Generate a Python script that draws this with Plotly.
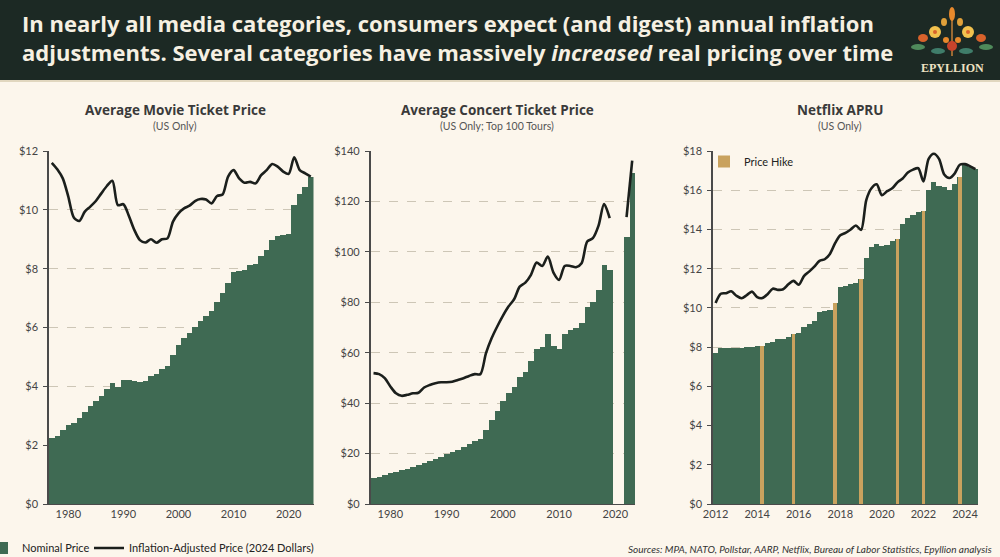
import plotly.graph_objects as go

# ---------------- DATA ----------------
movie_years = list(range(1977, 2025))
movie_nominal = [2.23, 2.32, 2.51, 2.67, 2.77, 2.94, 3.13, 3.33, 3.50, 3.67,
                 3.90, 4.12, 3.98, 4.21, 4.21, 4.17, 4.15, 4.18, 4.35, 4.42,
                 4.59, 4.69, 5.08, 5.39, 5.66, 5.81, 6.03, 6.21, 6.40, 6.56,
                 6.87, 7.18, 7.50, 7.90, 7.92, 7.95, 8.12, 8.17, 8.44, 8.65,
                 8.97, 9.11, 9.16, 9.18, 10.17, 10.53, 10.78, 11.10]
movie_real = [11.60, 11.38, 11.07, 10.45, 9.74, 9.62, 9.94, 10.11, 10.30, 10.56,
              10.81, 10.99, 10.16, 10.19, 9.79, 9.31, 8.97, 8.89, 9.00, 8.88,
              9.00, 9.03, 9.60, 9.88, 10.05, 10.14, 10.30, 10.37, 10.35, 10.22,
              10.47, 10.52, 11.13, 11.35, 11.07, 10.92, 10.95, 10.90, 11.18, 11.35,
              11.56, 11.47, 11.30, 11.22, 11.79, 11.35, 11.24, 11.13]

concert_years = list(range(1977, 2024))
concert_nominal = [10.2, 10.8, 11.5, 12.2, 12.8, 13.5, 14.0, 14.7, 15.4, 16.1,
                   17.0, 18.0, 18.8, 19.7, 20.6, 21.6, 22.8, 23.8, 24.8, 25.8,
                   29.4, 33.3, 37.0, 40.9, 43.9, 46.6, 50.3, 52.5, 56.9, 61.5,
                   62.2, 67.3, 62.7, 61.5, 67.3, 69.0, 69.7, 71.7, 78.0, 80.2,
                   84.9, 94.6, 92.7, None, None, 105.8, 131.2]
concert_real = [51.9, 51.5, 49.9, 46.6, 43.9, 42.9, 43.3, 43.9, 44.1, 46.2,
                47.2, 47.9, 48.3, 48.3, 48.5, 49.2, 49.9, 50.8, 51.5, 51.5,
                59.8, 65.7, 70.4, 74.6, 78.3, 81.2, 86.2, 87.8, 90.9, 95.8,
                94.4, 98.1, 91.8, 88.9, 94.4, 94.4, 93.9, 95.5, 104.1, 105.4,
                110.3, 119.0, 113.4, None, None, 113.8, 136.2]

netflix_years = [y for y in range(2012, 2025) for q in range(4)][:51]
netflix_qtrs = [q for y in range(2012, 2025) for q in range(1, 5)][:51]
netflix_nominal = [7.69, 7.98, 7.98, 7.98,
                   7.98, 7.95, 7.99, 8.03,
                   8.05, 8.07, 8.20, 8.28,
                   8.42, 8.43, 8.52, 8.66,
                   8.71, 9.05, 9.17, 9.35,
                   9.81, 9.83, 9.90, 10.27,
                   11.04, 11.12, 11.22, 11.26,
                   11.46, 12.53, 13.13, 13.25,
                   13.16, 13.22, 13.39, 13.51,
                   14.27, 14.58, 14.73, 14.90,
                   14.95, 16.00, 16.40, 16.20,
                   16.15, 16.00, 16.33, 16.67,
                   17.27, 17.20, 17.08]
netflix_real = [10.25, 10.72, 10.75, 10.85,
                10.62, 10.49, 10.65, 10.83,
                10.55, 10.50, 10.70, 10.98,
                10.92, 10.95, 11.20, 11.38,
                11.18, 11.62, 11.85, 12.10,
                12.40, 12.48, 12.75, 13.30,
                13.70, 13.82, 14.00, 14.20,
                13.98, 15.50, 16.10, 16.30,
                15.75, 15.95, 16.10, 16.40,
                16.60, 16.90, 17.05, 17.12,
                16.45, 17.60, 17.86, 17.60,
                16.80, 16.62, 16.85, 17.30,
                17.33, 17.22, 17.08]
netflix_hikes = [(2014, 2), (2015, 4), (2017, 4), (2019, 1), (2020, 4), (2022, 1), (2023, 4)]

panel_titles = ["Average Movie Ticket Price", "Average Concert Ticket Price", "Netflix APRU"]
panel_subtitles = ["(US Only)", "(US Only; Top 100 Tours)", "(US Only)"]
decade_ticks = [1980, 1990, 2000, 2010, 2020]
netflix_ticks = [2012, 2014, 2016, 2018, 2020, 2022, 2024]

# ---------------- STYLE ----------------
W, H = 1000, 557
BG = "#fcf6ec"
HEADER = "#1c2924"
GREEN = "#3f6a53"
GOLD = "#c9a25e"
LINE = "#1b1f1c"
GRID = "#cdc6b6"
AXIS = "#4a4a4a"
FONT = "Lato"
HFONT = "Open Sans"

def px(x):
    return x / W

def py(y):
    return 1 - y / H

netflix_x = [y + (q - 1) / 4 for y, q in zip(netflix_years, netflix_qtrs)]
hike_x = [y + (q - 1) / 4 for y, q in netflix_hikes]
hike_vals = [netflix_nominal[netflix_x.index(x)] for x in hike_x]

fig = go.Figure()

# Movie
fig.add_trace(go.Bar(x=movie_years, y=movie_nominal, name="Nominal Price", legend="legend",
                     marker=dict(color=GREEN, line=dict(width=0)), width=1.0,
                     xaxis="x", yaxis="y"))
fig.add_trace(go.Scatter(x=movie_years, y=movie_real, mode="lines", legend="legend3",
                         name="Inflation-Adjusted Price (2024 Dollars)",
                         line=dict(color=LINE, width=2.6, shape="spline", smoothing=0.8),
                         xaxis="x", yaxis="y"))
# Concert
fig.add_trace(go.Bar(x=concert_years, y=concert_nominal, showlegend=False,
                     marker=dict(color=GREEN, line=dict(width=0)), width=1.0,
                     xaxis="x2", yaxis="y2"))
fig.add_trace(go.Scatter(x=concert_years, y=concert_real, mode="lines", showlegend=False,
                         connectgaps=False,
                         line=dict(color=LINE, width=2.6, shape="spline", smoothing=0.8),
                         xaxis="x2", yaxis="y2"))
# Netflix
fig.add_trace(go.Bar(x=netflix_x, y=netflix_nominal, showlegend=False,
                     marker=dict(color=GREEN, line=dict(width=0)), width=0.25,
                     xaxis="x3", yaxis="y3"))
fig.add_trace(go.Bar(x=hike_x, y=hike_vals, name="Price Hike", legend="legend2",
                     marker=dict(color=GOLD, line=dict(width=0)), width=0.18,
                     xaxis="x3", yaxis="y3"))
fig.add_trace(go.Scatter(x=netflix_x, y=netflix_real, mode="lines", showlegend=False,
                         line=dict(color=LINE, width=2.6, shape="spline", smoothing=0.8),
                         xaxis="x3", yaxis="y3"))

ydom = [py(504), py(151)]
common_x = dict(showgrid=False, zeroline=False, showline=True, linecolor=AXIS, linewidth=1,
                ticks="", tickfont=dict(family=FONT, size=11, color="#444"), fixedrange=True,
                automargin=False)
common_y = dict(showgrid=True, gridcolor=GRID, griddash="dash", gridwidth=1, zeroline=False,
                showline=True, linecolor=AXIS, linewidth=1.5, ticks="outside", ticklen=4,
                tickcolor=AXIS, tickprefix="$", tickfont=dict(family=FONT, size=11, color="#444"),
                ticklabelstandoff=3, automargin=False, fixedrange=True)
leg_common = dict(bgcolor="rgba(0,0,0,0)", font=dict(family=FONT, size=11, color="#222"),
                  itemwidth=30)

fig.update_layout(
    template="none",
    width=W, height=H, autosize=False,
    margin=dict(l=0, r=0, t=0, b=0, pad=0, autoexpand=False),
    paper_bgcolor=BG, plot_bgcolor=BG,
    barmode="overlay", bargap=0,
    font=dict(family=FONT, color="#333"),
    xaxis=dict(domain=[px(49), px(313.5)], range=[1976.5, 2024.5], tickvals=decade_ticks, anchor="y", **common_x),
    yaxis=dict(domain=ydom, range=[0, 12], dtick=2, anchor="x", **common_y),
    xaxis2=dict(domain=[px(370.7), px(635)], range=[1976.5, 2023.5], tickvals=decade_ticks, anchor="y2", **common_x),
    yaxis2=dict(domain=ydom, range=[0, 140], dtick=20, anchor="x2", **common_y),
    xaxis3=dict(domain=[px(713), px(978)], range=[2011.875, 2024.625], tickvals=netflix_ticks, anchor="y3", **common_x),
    yaxis3=dict(domain=ydom, range=[0, 18], dtick=2, anchor="x3", **common_y),
    legend=dict(x=px(-18), y=py(548), xanchor="left", yanchor="middle", **leg_common),
    legend3=dict(x=px(89), y=py(548), xanchor="left", yanchor="middle", **leg_common),
    legend2=dict(x=px(704), y=py(147), xanchor="left", yanchor="top", **leg_common),
)

shapes = [
    dict(type="rect", xref="paper", yref="paper", x0=0, x1=1, y0=py(80), y1=1,
         fillcolor=HEADER, line=dict(width=0), layer="below"),
    dict(type="line", xref="paper", yref="paper", x0=0, x1=1, y0=py(81), y1=py(81),
         line=dict(color="#d8cdb0", width=1.5)),
]
# small decorative emblem for the logo
def circ(cx, cy, rx, ry, color):
    return dict(type="circle", xref="paper", yref="paper",
                x0=px(cx - rx), x1=px(cx + rx), y0=py(cy + ry), y1=py(cy - ry),
                fillcolor=color, line=dict(width=0))
shapes += [
    dict(type="line", xref="paper", yref="paper", x0=px(952), x1=px(952), y0=py(56), y1=py(18),
         line=dict(color="#9a6a33", width=2)),
    circ(918, 47, 7, 3, "#4f8a5b"), circ(986, 47, 7, 3, "#4f8a5b"),
    circ(938, 51, 7, 3, "#3f7d6a"), circ(966, 51, 7, 3, "#3f7d6a"),
    circ(923, 38, 5, 4, "#d9622b"), circ(981, 38, 5, 4, "#d9622b"),
    circ(935, 32, 6, 6, "#f2c14e"), circ(968, 32, 6, 6, "#f2c14e"),
    circ(935, 32, 2, 2, "#d9622b"), circ(968, 32, 2, 2, "#d9622b"),
    circ(952, 14, 3, 7, "#e8892c"), circ(944, 22, 3, 4, "#e0a03a"), circ(960, 22, 3, 4, "#e0a03a"),
    circ(952, 46, 5, 5, "#c7432b"), circ(946, 40, 3, 3, "#e8892c"), circ(958, 40, 3, 3, "#e8892c"),
]

annotations = [
    dict(xref="paper", yref="paper", x=px(20), y=py(38), xanchor="left", yanchor="middle",
         align="left", showarrow=False,
         text="<b>In nearly all media categories, consumers expect (and digest) annual inflation<br>"
              "adjustments. Several categories have massively <i>increased</i> real pricing over time</b>",
         font=dict(family=HFONT, size=22, color="#f6f0e2")),
    dict(xref="paper", yref="paper", x=px(952), y=py(68), xanchor="center", yanchor="middle",
         showarrow=False, text="<b>EPYLLION</b>",
         font=dict(family="Liberation Serif", size=12, color="#efe2c2")),
    dict(xref="paper", yref="paper", x=px(994), y=py(549), xanchor="right", yanchor="middle",
         showarrow=False,
         text="<i>Sources: MPA, NATO, Pollstar, AARP, Netflix, Bureau of Labor Statistics, Epyllion analysis</i>",
         font=dict(family=FONT, size=10, color="#333")),
]
centers = [175, 497, 840]
for c, t, s in zip(centers, panel_titles, panel_subtitles):
    annotations.append(dict(xref="paper", yref="paper", x=px(c), y=py(110), xanchor="center",
                            yanchor="middle", showarrow=False, text=f"<b>{t}</b>",
                            font=dict(family=HFONT, size=13.5, color="#3a3a3a")))
    annotations.append(dict(xref="paper", yref="paper", x=px(c), y=py(126), xanchor="center",
                            yanchor="middle", showarrow=False, text=s,
                            font=dict(family=FONT, size=10.5, color="#555")))

fig.update_layout(shapes=shapes, annotations=annotations)
fig.write_html("out.html", config={"displayModeBar": False},
               post_script="document.body.style.margin='0';document.body.style.overflow='hidden';")
